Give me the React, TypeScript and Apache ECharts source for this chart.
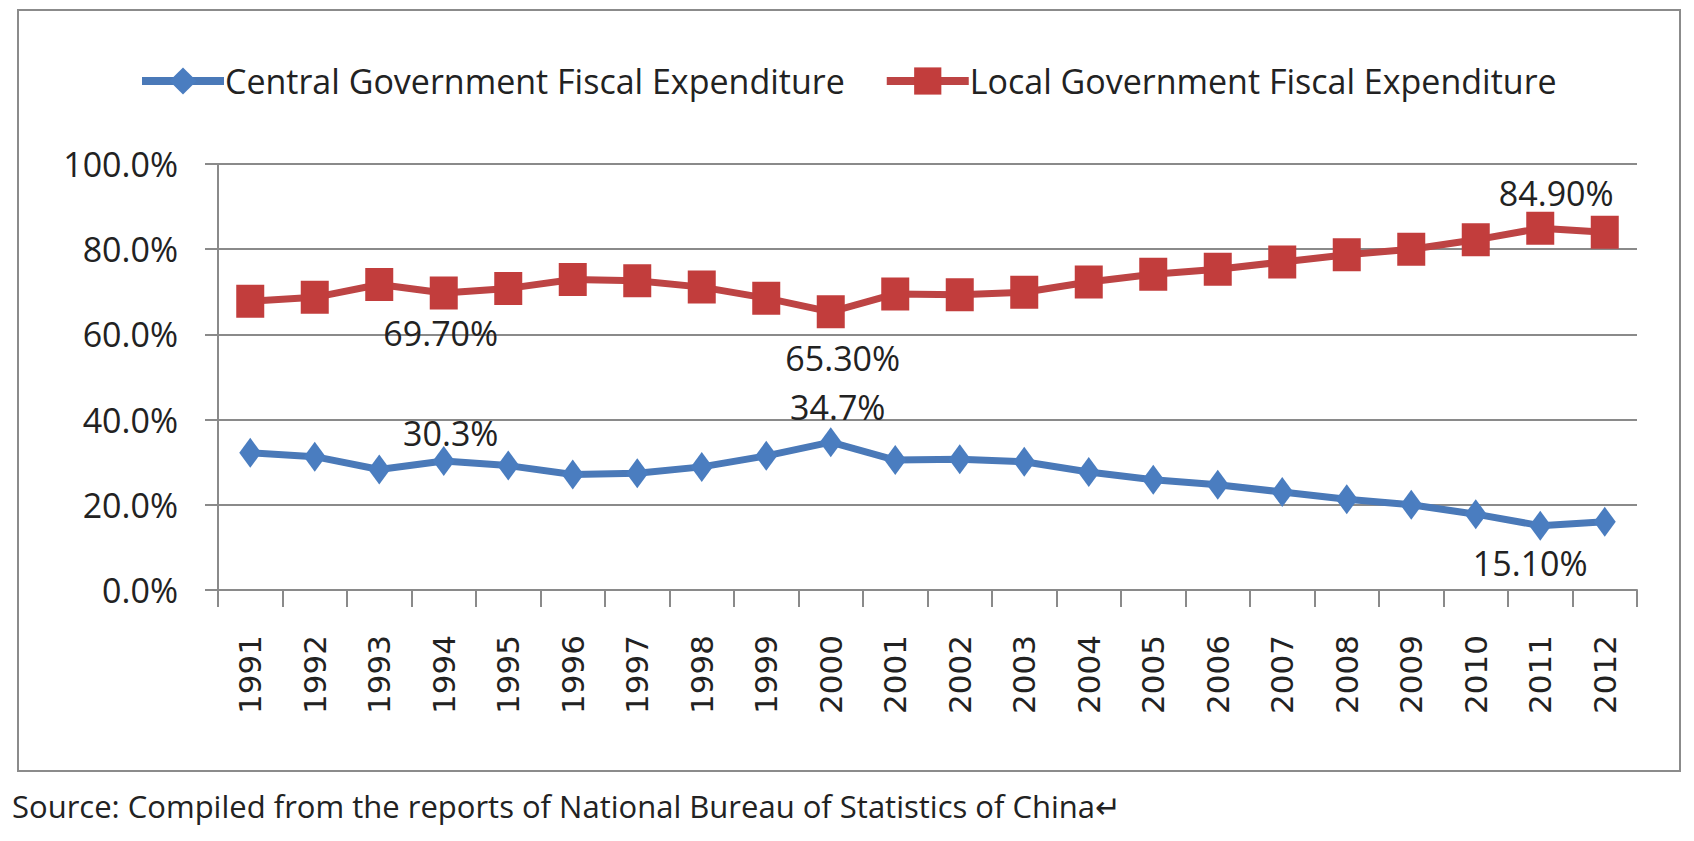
import React, { useEffect, useRef } from "react";
import * as echarts from "echarts";

const years = ["1991","1992","1993","1994","1995","1996","1997","1998","1999","2000","2001","2002","2003","2004","2005","2006","2007","2008","2009","2010","2011","2012"];
const centralValues = [32.2,31.3,28.3,30.3,29.2,27.1,27.4,28.9,31.5,34.7,30.5,30.7,30.1,27.7,25.9,24.7,23.0,21.3,20.0,17.8,15.1,16.0];
const localValues = [67.8,68.7,71.7,69.7,70.8,72.9,72.6,71.1,68.5,65.3,69.5,69.3,69.9,72.3,74.1,75.3,77.0,78.7,80.0,82.2,84.9,84.0];
const centralName = "Central Government Fiscal Expenditure";
const localName = "Local Government Fiscal Expenditure";
const yTicks = [0, 20, 40, 60, 80, 100];
// index -> label text
const centralLabels: Record<number, string> = { 3: "30.3%", 9: "34.7%", 20: "15.10%" };
const localLabels: Record<number, string> = { 3: "69.70%", 9: "65.30%", 20: "84.90%" };
const sourceText = "Source: Compiled from the reports of National Bureau of Statistics of China\u21b5";

const centralOffsets: Record<number, number[]> = { 3: [7, -28], 9: [7, -35], 20: [-10, 37] };
const localOffsets: Record<number, number[]> = { 3: [-3, 40], 9: [12, 46], 20: [16, -35] };

const FONT = "'Open Sans', 'Liberation Sans', sans-serif";

export default function App() {
  const ref = useRef<HTMLDivElement>(null);
  useEffect(() => {
    document.body.style.margin = "0";
    if (!ref.current) return;
    const chart = echarts.init(ref.current, null, { renderer: "svg" });
    const blue = "#4a7dc0";
    const blueLine = "#4a79b8";
    const red = "#c23d3c";
    const redLine = "#bd4444";
    const mk = (vals: number[], labels: Record<number, string>, offs: Record<number, number[]>) =>
      vals.map((v, i) =>
        labels[i] !== undefined
          ? {
              value: v,
              label: {
                show: true,
                position: "inside",
                offset: offs[i],
                formatter: labels[i],
                fontSize: 34,
                fontFamily: FONT,
                color: "#222",
              },
            }
          : v
      );
    chart.setOption({
      animation: false,
      backgroundColor: "#fff",
      legend: {
        left: 133,
        top: 59,
        itemWidth: 82,
        itemHeight: 34,
        itemGap: 38,
        lineStyle: { width: 8 },
        textStyle: { fontSize: 34, fontFamily: FONT, color: "#222", padding: [0, 0, 0, -4] },
        data: [centralName, localName],
      },
      grid: { left: 218, right: 57, top: 164, bottom: 251, containLabel: false },
      xAxis: {
        type: "category",
        data: years,
        boundaryGap: true,
        axisLine: { show: true, lineStyle: { color: "#8a8a8a", width: 2 } },
        axisTick: { show: true, length: 17, lineStyle: { color: "#8a8a8a", width: 2 } },
        axisLabel: {
          rotate: 90,
          margin: 45,
          interval: 0,
          fontSize: 31,
          fontFamily: "'DejaVu Sans', sans-serif",
          color: "#222",
        },
        splitLine: { show: false },
      },
      yAxis: {
        type: "value",
        min: yTicks[0],
        max: yTicks[yTicks.length - 1],
        interval: 20,
        axisLine: { show: true, lineStyle: { color: "#8a8a8a", width: 2 } },
        axisTick: { show: true, length: 13, lineStyle: { color: "#8a8a8a", width: 2 } },
        axisLabel: {
          margin: 40,
          fontSize: 34,
          fontFamily: FONT,
          color: "#222",
          formatter: (v: number) => v.toFixed(1) + "%",
        },
        splitLine: { show: true, lineStyle: { color: "#8a8a8a", width: 2 } },
      },
      graphic: [
        {
          type: "rect",
          shape: { x: 18, y: 10, width: 1662, height: 761 },
          style: { fill: "none", stroke: "#8b8b8b", lineWidth: 2 },
          silent: true,
        },
        {
          type: "text",
          left: 12,
          top: 790,
          style: { text: sourceText, fontSize: 31, fontFamily: FONT, fill: "#222" },
        },
      ],
      series: [
        {
          name: centralName,
          type: "line",
          data: mk(centralValues, centralLabels, centralOffsets),
          symbol: "diamond",
          symbolSize: [22, 30],
          itemStyle: { color: blue },
          lineStyle: { color: blueLine, width: 7 },
          z: 3,
        },
        {
          name: localName,
          type: "line",
          data: mk(localValues, localLabels, localOffsets),
          symbol: "rect",
          symbolSize: [28, 33],
          itemStyle: { color: red },
          lineStyle: { color: redLine, width: 7 },
          z: 3,
        },
      ],
    });
    return () => chart.dispose();
  }, []);
  return <div ref={ref} style={{ width: 1694, height: 841 }} />;
}
